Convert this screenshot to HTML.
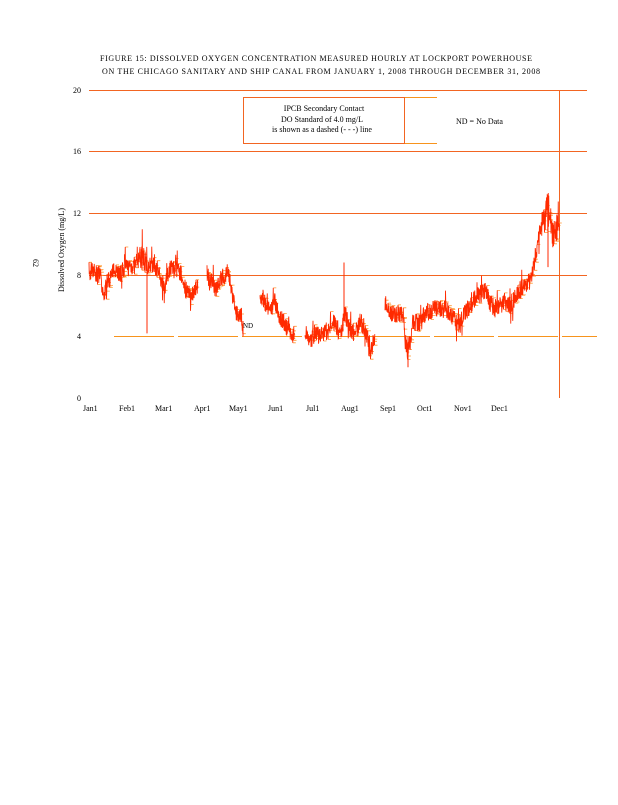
<!DOCTYPE html>
<html><head><meta charset="utf-8"><style>
body{margin:0;background:#fff;width:618px;height:800px;overflow:hidden}
svg text{font-family:"Liberation Serif",serif;font-size:8px;fill:#000}
</style></head><body>
<svg id="s" width="618" height="800" xmlns="http://www.w3.org/2000/svg">
<text x="100" y="61" textLength="432" lengthAdjust="spacing">FIGURE 15: DISSOLVED OXYGEN CONCENTRATION MEASURED HOURLY AT LOCKPORT POWERHOUSE</text>
<text x="102" y="74" textLength="438" lengthAdjust="spacing">ON THE CHICAGO SANITARY AND SHIP CANAL FROM JANUARY 1, 2008 THROUGH DECEMBER 31, 2008</text>
<g stroke="#f26522" stroke-width="1">
<line x1="89" y1="90.5" x2="587" y2="90.5"/>
<line x1="89" y1="151.5" x2="587" y2="151.5"/>
<line x1="89" y1="213.5" x2="587" y2="213.5"/>
<line x1="89" y1="275.5" x2="587" y2="275.5"/>
<line x1="559.5" y1="90" x2="559.5" y2="398"/>
</g>
<line x1="114" y1="336.5" x2="597" y2="336.5" stroke="#f7941d" stroke-width="1" stroke-dasharray="60,4"/>
<rect x="243.5" y="97.5" width="161" height="46" fill="#fff" stroke="#f26522"/>
<line x1="405" y1="97.5" x2="437" y2="97.5" stroke="#f7941d"/>
<line x1="405" y1="143.5" x2="437" y2="143.5" stroke="#f7941d"/>
<text x="324" y="111" text-anchor="middle">IPCB  Secondary   Contact</text>
<text x="322" y="122" text-anchor="middle">DO  Standard   of 4.0  mg/L</text>
<text x="322" y="132" text-anchor="middle">is shown   as a dashed  (- - -) line</text>
<text x="456" y="124">ND = No Data</text>
<g text-anchor="end">
<text x="81" y="93">20</text><text x="81" y="154">16</text><text x="81" y="216">12</text>
<text x="81" y="278">8</text><text x="81" y="339">4</text><text x="81" y="401">0</text>
</g>
<text transform="translate(64,292) rotate(-90)">Dissolved   Oxygen   (mg/L)</text>
<text transform="translate(33,259) rotate(90)">62</text>
<g>
<text x="83" y="411">Jan1</text><text x="119" y="411">Feb1</text><text x="155" y="411">Mar1</text>
<text x="194" y="411">Apr1</text><text x="229" y="411">May1</text><text x="268" y="411">Jun1</text>
<text x="306" y="411">Jul1</text><text x="341" y="411">Aug1</text><text x="380" y="411">Sep1</text>
<text x="417" y="411">Oct1</text><text x="454" y="411">Nov1</text><text x="491" y="411">Dec1</text>
</g>
<text x="243" y="328" style="font-size:7px">ND</text>
<g id="d"></g>
</svg>
<script>
var K=[[[89,7.7],[92,8.5],[96,8],[100,8.1],[103,6.5],[107,7.5],[112,8.0],[115,8.5],[120,8.0],[125,8.5],[135,8.6],[140,9.2],[146,8.8],[149,8.5],[155,8.8],[160,7.8],[165,7.3],[170,8.5],[175,8.5],[180,8.2],[186,7.0],[190,6.6],[195,7.0],[198,7.5]],
[[207,8],[215,7.2],[222,7.8],[228,8.2],[232,6.8],[236,5.5],[241,5.5],[243,4.6]],
[[260,6.2],[263,6.5],[270,5.5],[275,6.3],[278,5.5],[285,4.8],[290,4.3],[295,4.0]],
[[305,4.5],[310,3.8],[315,4.2],[320,4.0],[330,4.5],[335,5.0],[340,4.0],[345,5.5],[350,4.5],[355,4.2],[360,5.0],[365,4.5],[370,3.0],[375,4.0]],
[[385,6.2],[390,5.5],[395,5.5],[403,5.5],[407,3.0],[410,3.5],[413,5],[420,4.8],[425,5.5],[435,5.8],[445,5.8],[455,5.0],[460,4.8],[465,5.5],[475,6.5],[485,7.0],[490,6.2],[495,5.8],[503,6.3],[510,6.0],[515,6.5],[520,7.0],[525,7.5],[530,7.5],[535,9.0],[540,11],[545,11.5],[548,12.8],[551,11.5],[553,10.5],[556,11.0],[560,11.3]]];
var seed=7;function r(){seed=(seed*16807)%2147483647;return seed/2147483647;}
function Y(v){return 398-v*15.4;}
var g=document.getElementById('d'),h='',o='';
K.forEach(function(seg){
 var p='',q='';
 for(var i=0;i<seg.length-1;i++){var a=seg[i],b=seg[i+1];
  for(var x=a[0];x<b[0];x+=0.25){var t=(x-a[0])/(b[0]-a[0]);var amp=(a[1]>9?1.8:1.2)*(r()<0.05?2.2:1);var v=a[1]+(b[1]-a[1])*t+(r()-0.5)*amp;
   p+=(p?'L':'M')+x.toFixed(2)+' '+Y(v).toFixed(1);
   if(r()<0.3)q+='M'+x.toFixed(1)+' '+Y(v).toFixed(1)+'h3';}}
 h+='<path d="'+p+'" fill="none" stroke="#ff2a00" stroke-width="0.9"/>';
 o+='<path d="'+q+'" fill="none" stroke="#ff9933" stroke-width="0.8"/>';
});
h+='<line x1="147" y1="'+Y(8.8)+'" x2="147" y2="'+Y(4.2)+'" stroke="#ff2a00"/>';
h+='<line x1="243" y1="'+Y(5)+'" x2="243" y2="'+Y(4)+'" stroke="#ff2a00"/>';
h+='<line x1="344" y1="'+Y(5)+'" x2="344" y2="'+Y(8.8)+'" stroke="#ff2a00"/>';
h+='<line x1="408" y1="'+Y(4)+'" x2="408" y2="'+Y(2)+'" stroke="#ff2a00"/>';
h+='<line x1="548" y1="'+Y(8.5)+'" x2="548" y2="'+Y(13)+'" stroke="#ff2a00"/>';
g.innerHTML=o+h;
</script>
</body></html>
